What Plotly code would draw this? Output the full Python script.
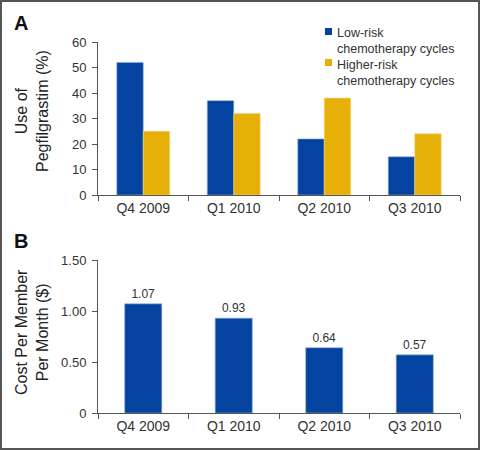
import plotly.graph_objects as go

categories = ["Q4 2009", "Q1 2010", "Q2 2010", "Q3 2010"]
low_risk = [52, 37, 22, 15]
higher_risk = [25, 32, 38, 24]
cost_pmpm = [1.07, 0.93, 0.64, 0.57]
low_name = "Low-risk<br>chemotherapy cycles"
high_name = "Higher-risk<br>chemotherapy cycles"
top_ticks = [0, 10, 20, 30, 40, 50, 60]
bottom_tickvals = [0, 0.5, 1.0, 1.5]
bottom_ticktext = ["0", "0.50", "1.00", "1.50"]

BLUE = "#0444a0"
GOLD = "#e6b008"
FONT = "Liberation Sans"
W, H = 480, 450

def px(x):
    return x / W

def py(y):
    return 1 - y / H

fig = go.Figure()
fig.add_trace(go.Bar(x=categories, y=low_risk, name=low_name, marker_color=BLUE,
                     marker_line=dict(color="#8fb0dc", width=0.6),
                     xaxis="x", yaxis="y", showlegend=False))
fig.add_trace(go.Bar(x=categories, y=higher_risk, name=high_name, marker_color=GOLD,
                     marker_line=dict(color="#f3d780", width=0.6),
                     xaxis="x", yaxis="y", showlegend=False))
fig.add_trace(go.Bar(x=categories, y=cost_pmpm, marker_color=BLUE, width=0.41,
                     marker_line=dict(color="#8fb0dc", width=0.6),
                     text=cost_pmpm, texttemplate="%{y:.2f}", textposition="outside",
                     textfont=dict(family=FONT, size=12, color="#333"),
                     cliponaxis=False, xaxis="x2", yaxis="y2", showlegend=False))

axis_common = dict(showline=True, linecolor="#555", linewidth=1, ticks="outside",
                   ticklen=5, tickcolor="#555", showgrid=False, zeroline=False,
                   automargin=False)
xdom = [px(98), px(460)]

fig.update_layout(
    width=W, height=H, autosize=False, margin=dict(l=0, r=0, t=0, b=0, pad=0),
    paper_bgcolor="white", plot_bgcolor="white", showlegend=False,
    barmode="group", bargap=0.415, bargroupgap=0,
    font=dict(family=FONT, color="#333"),
    xaxis=dict(domain=xdom, anchor="y", type="category", range=[-0.5, 3.5],
               tickson="boundaries", tickfont=dict(size=14, color="#333"), **axis_common),
    yaxis=dict(domain=[py(195), py(42)], anchor="x", range=[0, 60], tickvals=top_ticks,
               ticklabelstandoff=3, tickfont=dict(size=13, color="#333"), **axis_common),
    xaxis2=dict(domain=xdom, anchor="y2", type="category", range=[-0.5, 3.5],
                tickson="boundaries", tickfont=dict(size=14, color="#333"), **axis_common),
    yaxis2=dict(domain=[py(413), py(260)], anchor="x2", range=[0, 1.5],
                tickvals=bottom_tickvals, ticktext=bottom_ticktext, ticklabelstandoff=3,
                tickfont=dict(size=13, color="#333"), **axis_common),
)

C = dict(xref="paper", yref="paper", showarrow=False, xanchor="center", yanchor="middle")
ann = []
ann.append(dict(text="<b>A</b>", x=px(21), y=py(23), font=dict(size=20, color="#111", family=FONT), **C))
ann.append(dict(text="<b>B</b>", x=px(21), y=py(241), font=dict(size=20, color="#111", family=FONT), **C))
ann.append(dict(text="Use of<br>Pegfilgrastim (%)", x=px(32), y=py(111), textangle=-90,
                font=dict(size=16, color="#222", family=FONT), **C))
ann.append(dict(text="Cost Per Member<br>Per Month ($)", x=px(32), y=py(332), textangle=-90,
                font=dict(size=16, color="#222", family=FONT), **C))
# legend
for name, color, ytop in [(low_name, BLUE, 24), (high_name, GOLD, 56)]:
    ann.append(dict(text=name, x=px(335), y=py(ytop), xref="paper", yref="paper",
                    xanchor="left", yanchor="top", align="left", showarrow=False,
                    font=dict(size=12.5, color="#333", family=FONT)))
fig.update_layout(annotations=ann)

shapes = [
    dict(type="rect", xref="paper", yref="paper", x0=px(325), x1=px(332), y0=py(28), y1=py(35),
         fillcolor=BLUE, line=dict(width=0)),
    dict(type="rect", xref="paper", yref="paper", x0=px(325), x1=px(332), y0=py(59), y1=py(66),
         fillcolor=GOLD, line=dict(width=0)),
    dict(type="rect", xref="paper", yref="paper", x0=px(1), x1=px(479), y0=py(449), y1=py(1),
         line=dict(color="#555", width=2), fillcolor="rgba(0,0,0,0)"),
]
fig.update_layout(shapes=shapes)

fig.write_html("out.html", config={"displayModeBar": False, "responsive": False},
               post_script="document.body.style.margin='0';document.body.style.overflow='hidden';")
